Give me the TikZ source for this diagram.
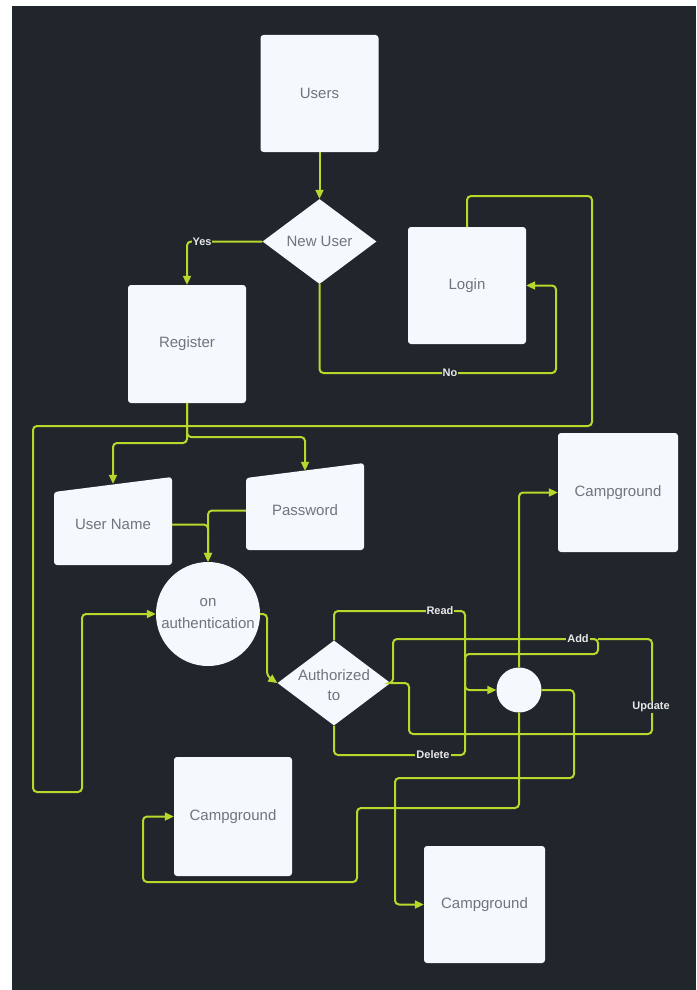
\documentclass[tikz,border=0pt]{standalone}
\usepackage{fontspec}
\setmainfont{Liberation Sans}
\usetikzlibrary{shapes.geometric,arrows.meta}
\definecolor{bgdark}{RGB}{33,37,44}
\definecolor{lime}{RGB}{185,216,43}
\definecolor{boxfill}{RGB}{245,248,252}
\definecolor{boxtext}{RGB}{112,117,125}
\definecolor{lbltext}{RGB}{232,232,232}
\begin{document}
\begin{tikzpicture}[x=1pt,y=-1pt,
  nodefont/.style={font=\fontsize{15}{17}\selectfont},
  box/.style={rectangle, rounded corners=3pt, fill=boxfill, minimum width=118pt, minimum height=117pt, inner sep=0pt, text=boxtext, nodefont},
  dec/.style={diamond, fill=boxfill, inner sep=0pt},
  bubble/.style={circle, fill=boxfill, inner sep=0pt, text=boxtext, font=\fontsize{15}{22}\selectfont, align=center},
  plain/.style={rectangle, inner sep=0pt, minimum width=118pt, text=boxtext, nodefont, align=center},
  conn/.style={draw=lime, line width=2pt, rounded corners=4pt},
  arr/.style={conn, -{Triangle[length=9pt,width=8pt]}},
  lbl/.style={fill=bgdark, text=lbltext, font=\bfseries\fontsize{11}{13}\selectfont, inner sep=1pt}
]
\useasboundingbox (0,0) rectangle (696,990);
\fill[white] (0,0) rectangle (696,990);
\fill[bgdark] (12,6) rectangle (696,990);

% shapes
\node[box] (users) at (319.5,93.5) {Users};
\node[dec, minimum width=114pt, minimum height=85pt] (newuser) at (319.5,241.5) {};
\node[plain] (newusert) at (newuser.center) {New User};
\node[box, minimum height=118pt] (register) at (187,344) {Register};
\node[box] (login) at (467,285.5) {Login};

\fill[boxfill, rounded corners=3pt] (54,492) -- (172,477) -- (172,565) -- (54,565) -- cycle;
\node[plain, minimum height=81pt] (uname) at (113,524.5) {User Name};
\fill[boxfill, rounded corners=3pt] (246,478) -- (364,463) -- (364,550) -- (246,550) -- cycle;
\node[plain, minimum height=79pt] (pwd) at (305,510.5) {Password};

\node[bubble, minimum size=104pt] (auth) at (208,614) {on\\authentication};
\node[dec, minimum width=113pt, minimum height=85pt] (authz) at (334,683) {};
\node[plain, font=\fontsize{15}{20}\selectfont] (authzt) at (334,685) {Authorized\\to};
\node[bubble, minimum size=45pt] (hub) at (519,690) {};

\node[box, minimum width=120pt, minimum height=119pt] (camp1) at (618,492.5) {Campground};
\node[box, minimum height=119pt] (camp2) at (233,816.5) {Campground};
\node[box, minimum width=121pt] (camp3) at (484.5,904.5) {Campground};

% join points
\coordinate (rj) at (465,690);
\coordinate (aj) at (598,639);

% connectors
\draw[arr] (users.south) -- (newuser.north);
\draw[arr] (newuser.west) -- (187,241.5) -- (register.north);
\draw[arr] (newuser.south) -- (319.5,373) -- (556,373) -- (556,285.5) -- (login.east);
\draw[arr] (login.north) -- (467,196) -- (592,196) -- (592,426) -- (33,426) -- (33,792) -- (82,792) |- (auth.west);
\draw[arr] (register.south) -- (187,437) -| (pwd.north);
\draw[arr] (register.south) -- (187,443) -| (uname.north);
\draw[arr] (uname.east) -| (auth.north);
\draw[arr] (pwd.west) -| (auth.north);
\draw[arr] (auth.east) -- (267,614) -- (267,676) -- (authz.west);
\draw[arr] (authz.north) -- (334,611) -- (465,611) -- (rj) -- (hub.west);
\draw[conn] (authz.south) -- (334,755) -- (465,755) -- (rj);
\draw[conn] (authz.east) -- (393,683) -- (393,639) -- (aj) -- (598,654) -- (465,654) -- (rj);
\draw[conn] (authz.east) -- (409,683) -- (409,734) -- (652,734) -- (652,639) -- (aj);
\draw[arr] (hub.north) |- (camp1.west);
\draw[arr] (hub.south) -- (519,808) -- (357,808) -- (357,882) -- (143,882) -- (143,816.5) -- (camp2.west);
\draw[arr] (hub.east) -- (574,690) -- (574,778) -- (395,778) -- (395,904.5) -- (camp3.west);

% edge labels
\node[lbl] (lyes) at (202,241.5) {Yes};
\node[lbl] (lno) at (450,373) {No};
\node[lbl] (lread) at (440,611) {Read};
\node[lbl] (ldel) at (433,755) {Delete};
\node[lbl] (ladd) at (578,639) {Add};
\node[lbl] (lupd) at (651,707) {Update};
\end{tikzpicture}
\end{document}
